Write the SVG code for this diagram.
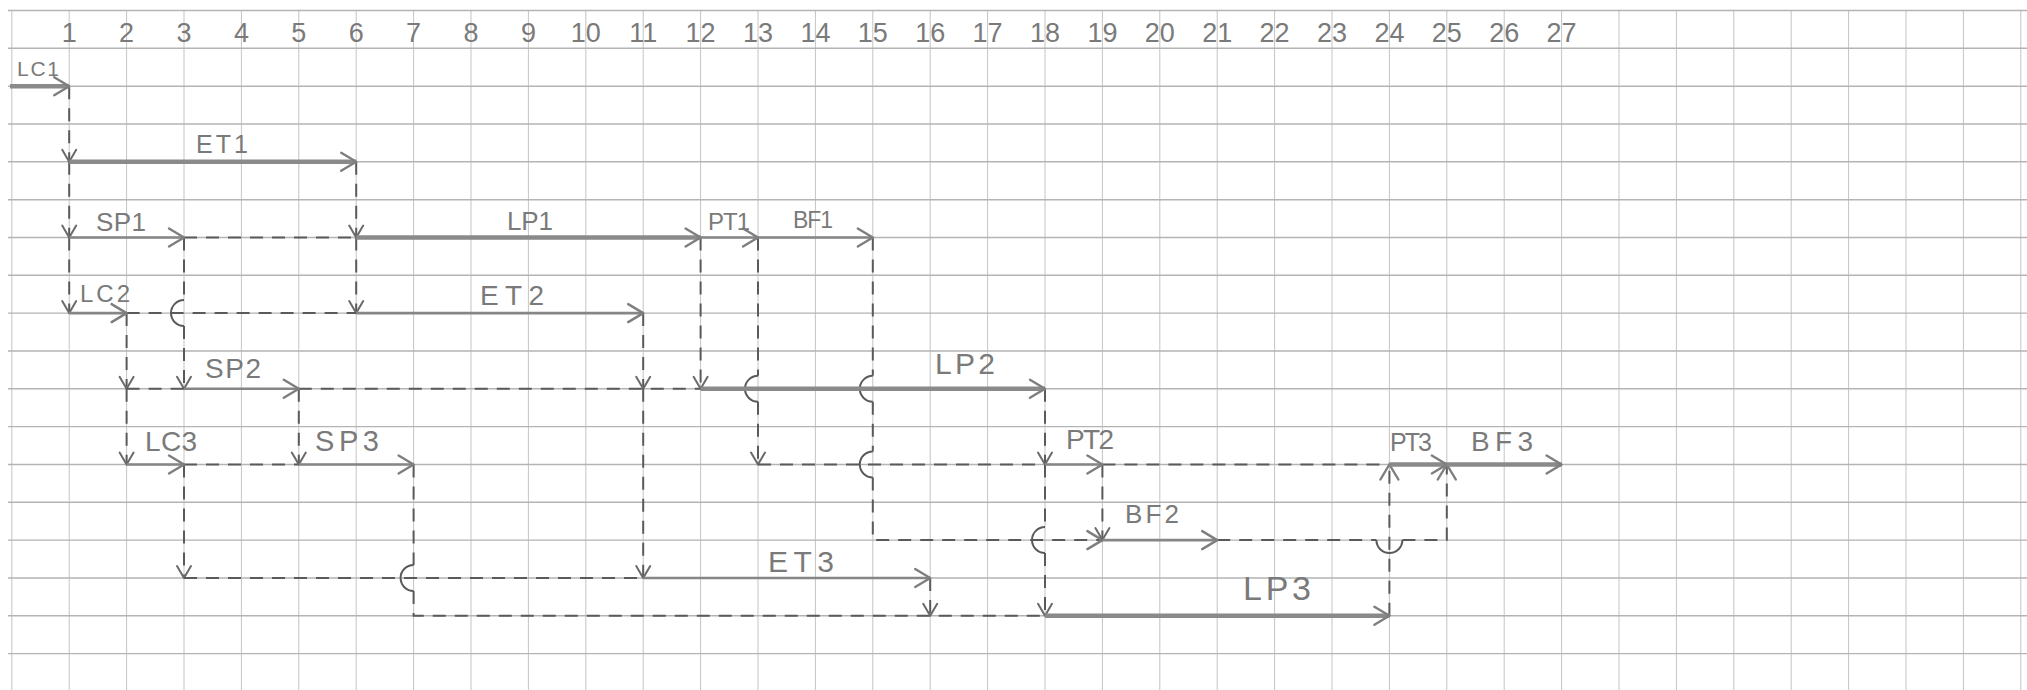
<svg xmlns="http://www.w3.org/2000/svg" width="2027" height="690" viewBox="0 0 2027 690">
<style>
.gv{stroke:#c4c4c4;stroke-width:1;fill:none}
.gh{stroke:#b4b4b4;stroke-width:1.4;fill:none}
.a{stroke:#868686;stroke-width:2.6;fill:none;marker-end:url(#big)}
.t{stroke:#8a8a8a;stroke-width:4.6;fill:none;marker-end:url(#big)}
.d{stroke:#5a5a5a;stroke-width:2;fill:none;stroke-dasharray:13 9}
.arc{stroke:#5a5a5a;stroke-width:2;fill:none}
.ds{marker-end:url(#sm)}
.db{marker-end:url(#big)}
.lbl{font-family:"Liberation Sans",Arial,sans-serif;fill:#7a7a7a}
.num{font-family:"Liberation Sans",Arial,sans-serif;fill:#7a7a7a;font-size:27px;text-anchor:middle}
</style>
<defs>
<marker id="big" markerUnits="userSpaceOnUse" viewBox="-18 -12 20 24" markerWidth="20" markerHeight="24" refX="0" refY="0" orient="auto" overflow="visible">
<path d="M-15,-9 L0,0 L-15,9" fill="none" stroke="#7e7e7e" stroke-width="2.4" stroke-dasharray="none" stroke-linecap="round" stroke-linejoin="round"/>
</marker>
<marker id="sm" markerUnits="userSpaceOnUse" viewBox="-14 -9 16 18" markerWidth="16" markerHeight="18" refX="0" refY="0" orient="auto" overflow="visible">
<path d="M-12,-7 L0,0 L-12,7" fill="none" stroke="#6a6a6a" stroke-width="2" stroke-dasharray="none" stroke-linecap="round" stroke-linejoin="round"/>
</marker>
</defs>
<rect width="2027" height="690" fill="#ffffff"/>
<g id="grid">
<path class="gv" d="M11.8,10V690M69.2,10V690M126.6,10V690M184,10V690M241.4,10V690M298.8,10V690M356.2,10V690M413.6,10V690M471,10V690M528.4,10V690M585.8,10V690M643.2,10V690M700.6,10V690M758,10V690M815.4,10V690M872.8,10V690M930.2,10V690M987.6,10V690M1045,10V690M1102.4,10V690M1159.8,10V690M1217.2,10V690M1274.6,10V690M1332,10V690M1389.4,10V690M1446.8,10V690M1504.2,10V690M1561.6,10V690M1619,10V690M1676.4,10V690M1733.8,10V690M1791.2,10V690M1848.6,10V690M1906,10V690M1963.4,10V690M2020.8,10V690"/>
<path class="gh" d="M8,10.5H2027M8,48.3H2027M8,86.2H2027M8,124H2027M8,161.8H2027M8,199.7H2027M8,237.5H2027M8,275.3H2027M8,313.1H2027M8,351H2027M8,388.8H2027M8,426.6H2027M8,464.5H2027M8,502.3H2027M8,540.1H2027M8,578H2027M8,615.8H2027M8,653.6H2027"/>
</g>
<g id="header">
<text class="num" x="69.2" y="42">1</text>
<text class="num" x="126.6" y="42">2</text>
<text class="num" x="184" y="42">3</text>
<text class="num" x="241.4" y="42">4</text>
<text class="num" x="298.8" y="42">5</text>
<text class="num" x="356.2" y="42">6</text>
<text class="num" x="413.6" y="42">7</text>
<text class="num" x="471" y="42">8</text>
<text class="num" x="528.4" y="42">9</text>
<text class="num" x="585.8" y="42">10</text>
<text class="num" x="643.2" y="42">11</text>
<text class="num" x="700.6" y="42">12</text>
<text class="num" x="758" y="42">13</text>
<text class="num" x="815.4" y="42">14</text>
<text class="num" x="872.8" y="42">15</text>
<text class="num" x="930.2" y="42">16</text>
<text class="num" x="987.6" y="42">17</text>
<text class="num" x="1045" y="42">18</text>
<text class="num" x="1102.4" y="42">19</text>
<text class="num" x="1159.8" y="42">20</text>
<text class="num" x="1217.2" y="42">21</text>
<text class="num" x="1274.6" y="42">22</text>
<text class="num" x="1332" y="42">23</text>
<text class="num" x="1389.4" y="42">24</text>
<text class="num" x="1446.8" y="42">25</text>
<text class="num" x="1504.2" y="42">26</text>
<text class="num" x="1561.6" y="42">27</text>
</g>
<g id="connectors">
<path class="d ds" d="M69.2,86.2V161.8"/>
<path class="d ds" d="M69.2,161.8V237.5"/>
<path class="d ds" d="M69.2,237.5V313.1"/>
<path class="d ds" d="M356.2,161.8V237.5"/>
<path class="d ds" d="M356.2,237.5V313.1"/>
<path class="d" d="M184,237.5H356.2"/>
<path class="d ds" d="M184,237.5V300.1M184,326.1V388.8"/>
<path class="arc" d="M184,300.1A13,13 0 0 0 184,326.1"/>
<path class="d" d="M126.6,313.1H356.2"/>
<path class="d ds" d="M126.6,313.1V388.8"/>
<path class="d ds" d="M126.6,388.8V464.5"/>
<path class="d" d="M126.6,388.8H184"/>
<path class="d" d="M298.8,388.8H700.6"/>
<path class="d ds" d="M298.8,388.8V464.5"/>
<path class="d ds" d="M643.2,313.1V388.8"/>
<path class="d ds" d="M643.2,388.8V578"/>
<path class="d ds" d="M700.6,237.5V388.8"/>
<path class="d ds" d="M758,237.5V375.8M758,401.8V464.5"/>
<path class="arc" d="M758,375.8A13,13 0 0 0 758,401.8"/>
<path class="d db" d="M872.8,237.5V375.8M872.8,401.8V451.5M872.8,477.5V540.1H1102.4"/>
<path class="arc" d="M872.8,375.8A13,13 0 0 0 872.8,401.8M872.8,451.5A13,13 0 0 0 872.8,477.5"/>
<path class="d" d="M184,464.5H298.8"/>
<path class="d" d="M758,464.5H1045"/>
<path class="d" d="M1102.4,464.5H1389.4"/>
<path class="d ds" d="M184,464.5V578"/>
<path class="d" d="M184,578H643.2"/>
<path class="d" d="M413.6,464.5V565M413.6,591V615.8H1045"/>
<path class="arc" d="M413.6,565A13,13 0 0 0 413.6,591"/>
<path class="d ds" d="M930.2,578V615.8"/>
<path class="d ds" d="M1045,388.8V464.5"/>
<path class="d ds" d="M1045,464.5V527.1M1045,553.1V615.8"/>
<path class="arc" d="M1045,527.1A13,13 0 0 0 1045,553.1"/>
<path class="d ds" d="M1102.4,464.5V540.1"/>
<path class="d db" d="M1217.2,540.1H1376.4M1402.4,540.1H1446.8V464.5"/>
<path class="arc" d="M1376.4,540.1A13,13 0 0 0 1402.4,540.1"/>
<path class="d db" d="M1389.4,615.8V464.5"/>
</g>
<g id="LC1"><path class="t" d="M10,86.2H69.2"/><text class="lbl" x="17" y="76" font-size="21" textLength="42" lengthAdjust="spacing">LC1</text></g>
<g id="ET1"><path class="t" d="M69.2,161.8H356.2"/><text class="lbl" x="196" y="153" font-size="25" textLength="52" lengthAdjust="spacing">ET1</text></g>
<g id="SP1"><path class="a" d="M69.2,237.5H184"/><text class="lbl" x="96" y="231" font-size="26" textLength="50" lengthAdjust="spacing">SP1</text></g>
<g id="LP1"><path class="t" d="M356.2,237.5H700.6"/><text class="lbl" x="507" y="230" font-size="26" textLength="46" lengthAdjust="spacing">LP1</text></g>
<g id="PT1"><path class="a" d="M700.6,237.5H758"/><text class="lbl" x="708" y="230" font-size="24" textLength="42" lengthAdjust="spacing">PT1</text></g>
<g id="BF1"><path class="a" d="M758,237.5H872.8"/><text class="lbl" x="793" y="228" font-size="23" textLength="40" lengthAdjust="spacing">BF1</text></g>
<g id="LC2"><path class="a" d="M69.2,313.1H126.6"/><text class="lbl" x="80" y="302" font-size="24" textLength="50" lengthAdjust="spacing">LC2</text></g>
<g id="ET2"><path class="a" d="M356.2,313.1H643.2"/><text class="lbl" x="480" y="305" font-size="28" textLength="64" lengthAdjust="spacing">ET2</text></g>
<g id="SP2"><path class="a" d="M184,388.8H298.8"/><text class="lbl" x="205" y="378" font-size="28" textLength="56" lengthAdjust="spacing">SP2</text></g>
<g id="LP2"><path class="t" d="M700.6,388.8H1045"/><text class="lbl" x="935" y="374" font-size="30" textLength="60" lengthAdjust="spacing">LP2</text></g>
<g id="LC3"><path class="a" d="M126.6,464.5H184"/><text class="lbl" x="145" y="451" font-size="28" textLength="52" lengthAdjust="spacing">LC3</text></g>
<g id="SP3"><path class="a" d="M298.8,464.5H413.6"/><text class="lbl" x="315" y="451" font-size="29" textLength="64" lengthAdjust="spacing">SP3</text></g>
<g id="PT2"><path class="a" d="M1045,464.5H1102.4"/><text class="lbl" x="1066" y="449" font-size="28" textLength="48" lengthAdjust="spacing">PT2</text></g>
<g id="PT3"><path class="t" d="M1389.4,464.5H1446.8"/><text class="lbl" x="1390" y="451" font-size="25" textLength="42" lengthAdjust="spacing">PT3</text></g>
<g id="BF3"><path class="t" d="M1446.8,464.5H1561.6"/><text class="lbl" x="1471" y="451" font-size="28" textLength="62" lengthAdjust="spacing">BF3</text></g>
<g id="BF2"><path class="a" d="M1102.4,540.1H1217.2"/><text class="lbl" x="1125" y="523" font-size="26" textLength="54" lengthAdjust="spacing">BF2</text></g>
<g id="ET3"><path class="a" d="M643.2,578H930.2"/><text class="lbl" x="768" y="572" font-size="30" textLength="66" lengthAdjust="spacing">ET3</text></g>
<g id="LP3"><path class="t" d="M1045,615.8H1389.4"/><text class="lbl" x="1243" y="600" font-size="34" textLength="68" lengthAdjust="spacing">LP3</text></g>
</svg>
